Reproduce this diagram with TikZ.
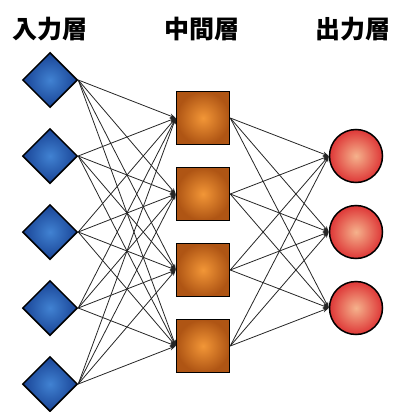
\documentclass[tikz,border=0pt]{standalone}
\usepackage{fontspec}
\newfontfamily\cjk{Noto Sans CJK JP}
\usetikzlibrary{shapes.geometric,arrows.meta}
\tikzset{
  inp/.style={diamond,draw=black,line width=1.5pt,minimum width=55pt,minimum height=55pt,inner sep=0pt,shading=radial,inner color={rgb,255:red,65;green,130;blue,210},outer color={rgb,255:red,25;green,68;blue,150}},
  hid/.style={rectangle,draw=black,line width=1.5pt,minimum size=53pt,inner sep=0pt,shading=radial,inner color={rgb,255:red,242;green,150;blue,55},outer color={rgb,255:red,175;green,85;blue,20}},
  outn/.style={circle,draw=black,line width=1.5pt,minimum size=53pt,inner sep=0pt,shading=radial,inner color={rgb,255:red,245;green,178;blue,140},outer color={rgb,255:red,222;green,55;blue,55}},
  conn/.style={draw=black!85,line width=0.8pt,-{Stealth[length=6pt,width=4.5pt]}},
  ttl/.style={font=\cjk\bfseries\fontsize{25}{28}\selectfont,inner sep=0pt}
}
\begin{document}
\begin{tikzpicture}[x=1pt,y=-1pt]
\useasboundingbox (0,0) rectangle (396,412);
\node[ttl] (t1) at (50,29) {入力層};
\node[ttl] (t2) at (202,29) {中間層};
\node[ttl] (t3) at (353,29) {出力層};
\foreach \i/\y in {1/80,2/156,3/232,4/308,5/384} {
  \node[inp] (i\i) at (50,\y) {};
}
\foreach \i/\y in {1/118,2/194,3/270,4/346} {
  \node[hid] (h\i) at (203,\y) {};
}
\foreach \i/\y in {1/156,2/232,3/308} {
  \node[outn] (o\i) at (356,\y) {};
}
\foreach \i in {1,...,5} {
  \foreach \j in {1,...,4} {
    \draw[conn] (i\i.east) -- (h\j.west);
  }
}
\foreach \j in {1,...,4} {
  \foreach \k in {1,...,3} {
    \draw[conn] (h\j.east) -- (o\k.west);
  }
}
\end{tikzpicture}
\end{document}
